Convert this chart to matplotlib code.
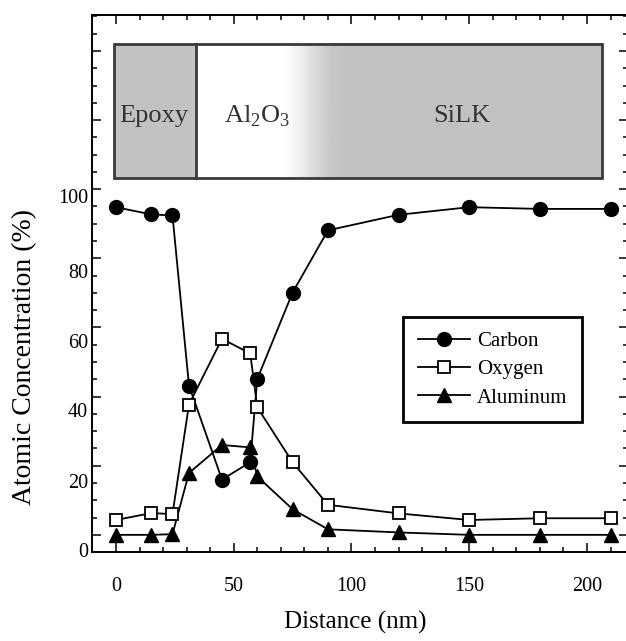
import numpy as np
import matplotlib
matplotlib.use("Agg")
import matplotlib.pyplot as plt
from matplotlib.patches import Rectangle
from matplotlib.ticker import MultipleLocator
from matplotlib.transforms import ScaledTranslation

# depth profile
distance_nm = [0, 15, 24, 31, 45, 57, 60, 75, 90, 120, 150, 180, 210]
carbon = [94.8, 92.7, 92.4, 43.2, 16.0, 21.0, 45.1, 70.1, 88.1, 92.6, 94.8, 94.3, 94.3]
oxygen = [4.3, 6.3, 6.0, 37.7, 56.7, 52.5, 36.9, 21.0, 8.7, 6.2, 4.3, 4.8, 4.8]
aluminum = [0.0, 0.0, 0.2, 17.9, 26.0, 25.3, 16.9, 7.4, 1.6, 0.7, 0.0, 0.0, 0.0]

series_names = ["Carbon", "Oxygen", "Aluminum"]
layer_names = ["Epoxy", r"Al$_\mathregular{2}$O$_\mathregular{3}$", "SiLK"]

x_ticks = [0, 50, 100, 150, 200]
y_ticks = [0, 20, 40, 60, 80, 100, 120, 140]
y_tick_labels = ["0", "20", "40", "60", "80", "100", "", ""]

# layer sketch drawn above the data, in data units
BOX_X0, BOX_SPLIT, BOX_X1 = -0.85, 34.0, 206.4
BOX_Y0, BOX_Y1 = 103.1, 141.9
FADE_START, FADE_END = 68.0, 97.0

plt.rcParams.update({
    "font.family": ["Liberation Serif", "DejaVu Serif"],
    "mathtext.fontset": "custom",
    "mathtext.rm": "Liberation Serif",
})

fig = plt.figure(figsize=(6.26, 6.41), dpi=100)
ax = fig.add_axes([0.1465, 0.1381, 0.8559, 0.8385])

ax.set_xlim(-10.3, 217.2)
ax.set_ylim(-5.1, 150.4)

lw = 1.3
ax.plot(distance_nm, carbon, color="black", lw=lw, marker="o", ms=10,
        mfc="black", mec="black", label=series_names[0], zorder=3)
ax.plot(distance_nm, oxygen, color="black", lw=lw, marker="s", ms=9,
        mfc="white", mec="black", mew=1.3, label=series_names[1], zorder=4)
ax.plot(distance_nm, aluminum, color="black", lw=lw, marker="^", ms=10.5,
        mfc="black", mec="black", label=series_names[2], zorder=3)

# layer box with the Al2O3 -> SiLK fade
gray = 0.76
grid = np.linspace(BOX_SPLIT, BOX_X1, 600)
t = np.clip((grid - FADE_START) / (FADE_END - FADE_START), 0, 1)
t = 0.5 - 0.5 * np.cos(np.pi * t)
shade = 1.0 - t * (1.0 - gray)
ax.imshow(shade[np.newaxis, :], cmap="gray", vmin=0, vmax=1, aspect="auto",
          extent=[BOX_SPLIT, BOX_X1, BOX_Y0, BOX_Y1], interpolation="bilinear",
          zorder=1)
ax.add_patch(Rectangle((BOX_X0, BOX_Y0), BOX_SPLIT - BOX_X0, BOX_Y1 - BOX_Y0,
                       facecolor=str(gray), edgecolor="none", zorder=1))
ax.add_patch(Rectangle((BOX_X0, BOX_Y0), BOX_X1 - BOX_X0, BOX_Y1 - BOX_Y0,
                       facecolor="none", edgecolor="#3a3a3a", lw=2, zorder=2))
ax.plot([BOX_SPLIT, BOX_SPLIT], [BOX_Y0, BOX_Y1], color="#3a3a3a", lw=2, zorder=2)

label_x = [16.2, 60.0, 146.8]
for name, lx in zip(layer_names, label_x):
    ax.text(lx, 119.3, name, ha="center", va="baseline", fontsize=19,
            color="#333333", zorder=2)

ax.set_xticks(x_ticks)
ax.xaxis.set_minor_locator(MultipleLocator(10))
ax.set_yticks(y_ticks)
ax.set_yticklabels(y_tick_labels)
ax.yaxis.set_minor_locator(MultipleLocator(5))

ax.tick_params(which="both", direction="in", top=True, right=True,
               width=1.1, labelsize=14.5, colors="black")
ax.tick_params(which="major", length=6.8)
ax.tick_params(which="minor", length=3.6)
ax.tick_params(axis="x", pad=17.5)
ax.tick_params(axis="y", pad=2.5)
for sp in ax.spines.values():
    sp.set_linewidth(1.4)

ax.set_xlabel("Distance (nm)", fontsize=18, va="center", ha="center")
ax.xaxis.set_label_coords(0.4914, -0.1293)
ax.set_ylabel("Atomic Concentration (%)", fontsize=20, va="center", ha="center")
ax.yaxis.set_label_coords(-0.1245, 0.3628)

leg = ax.legend(loc="upper left", bbox_to_anchor=(0.5816, 0.4387),
                borderaxespad=0, fontsize=15, numpoints=1, handlelength=2.5,
                handletextpad=0.35, labelspacing=0.42, borderpad=0.7,
                fancybox=False, framealpha=1, edgecolor="black")
leg.get_frame().set_linewidth(2)

# the printed y labels sit a little below their ticks
label_drop_pt = {0: 11, 20: 11, 40: 9.5, 60: 9.5, 80: 9, 100: 5}
for val, lab in zip(ax.get_yticks(), ax.get_yticklabels()):
    dy = label_drop_pt.get(int(round(val)), 0)
    lab.set_transform(lab.get_transform()
                      + ScaledTranslation(0, -dy / 72, fig.dpi_scale_trans))

fig.savefig("out.png", dpi=100)
